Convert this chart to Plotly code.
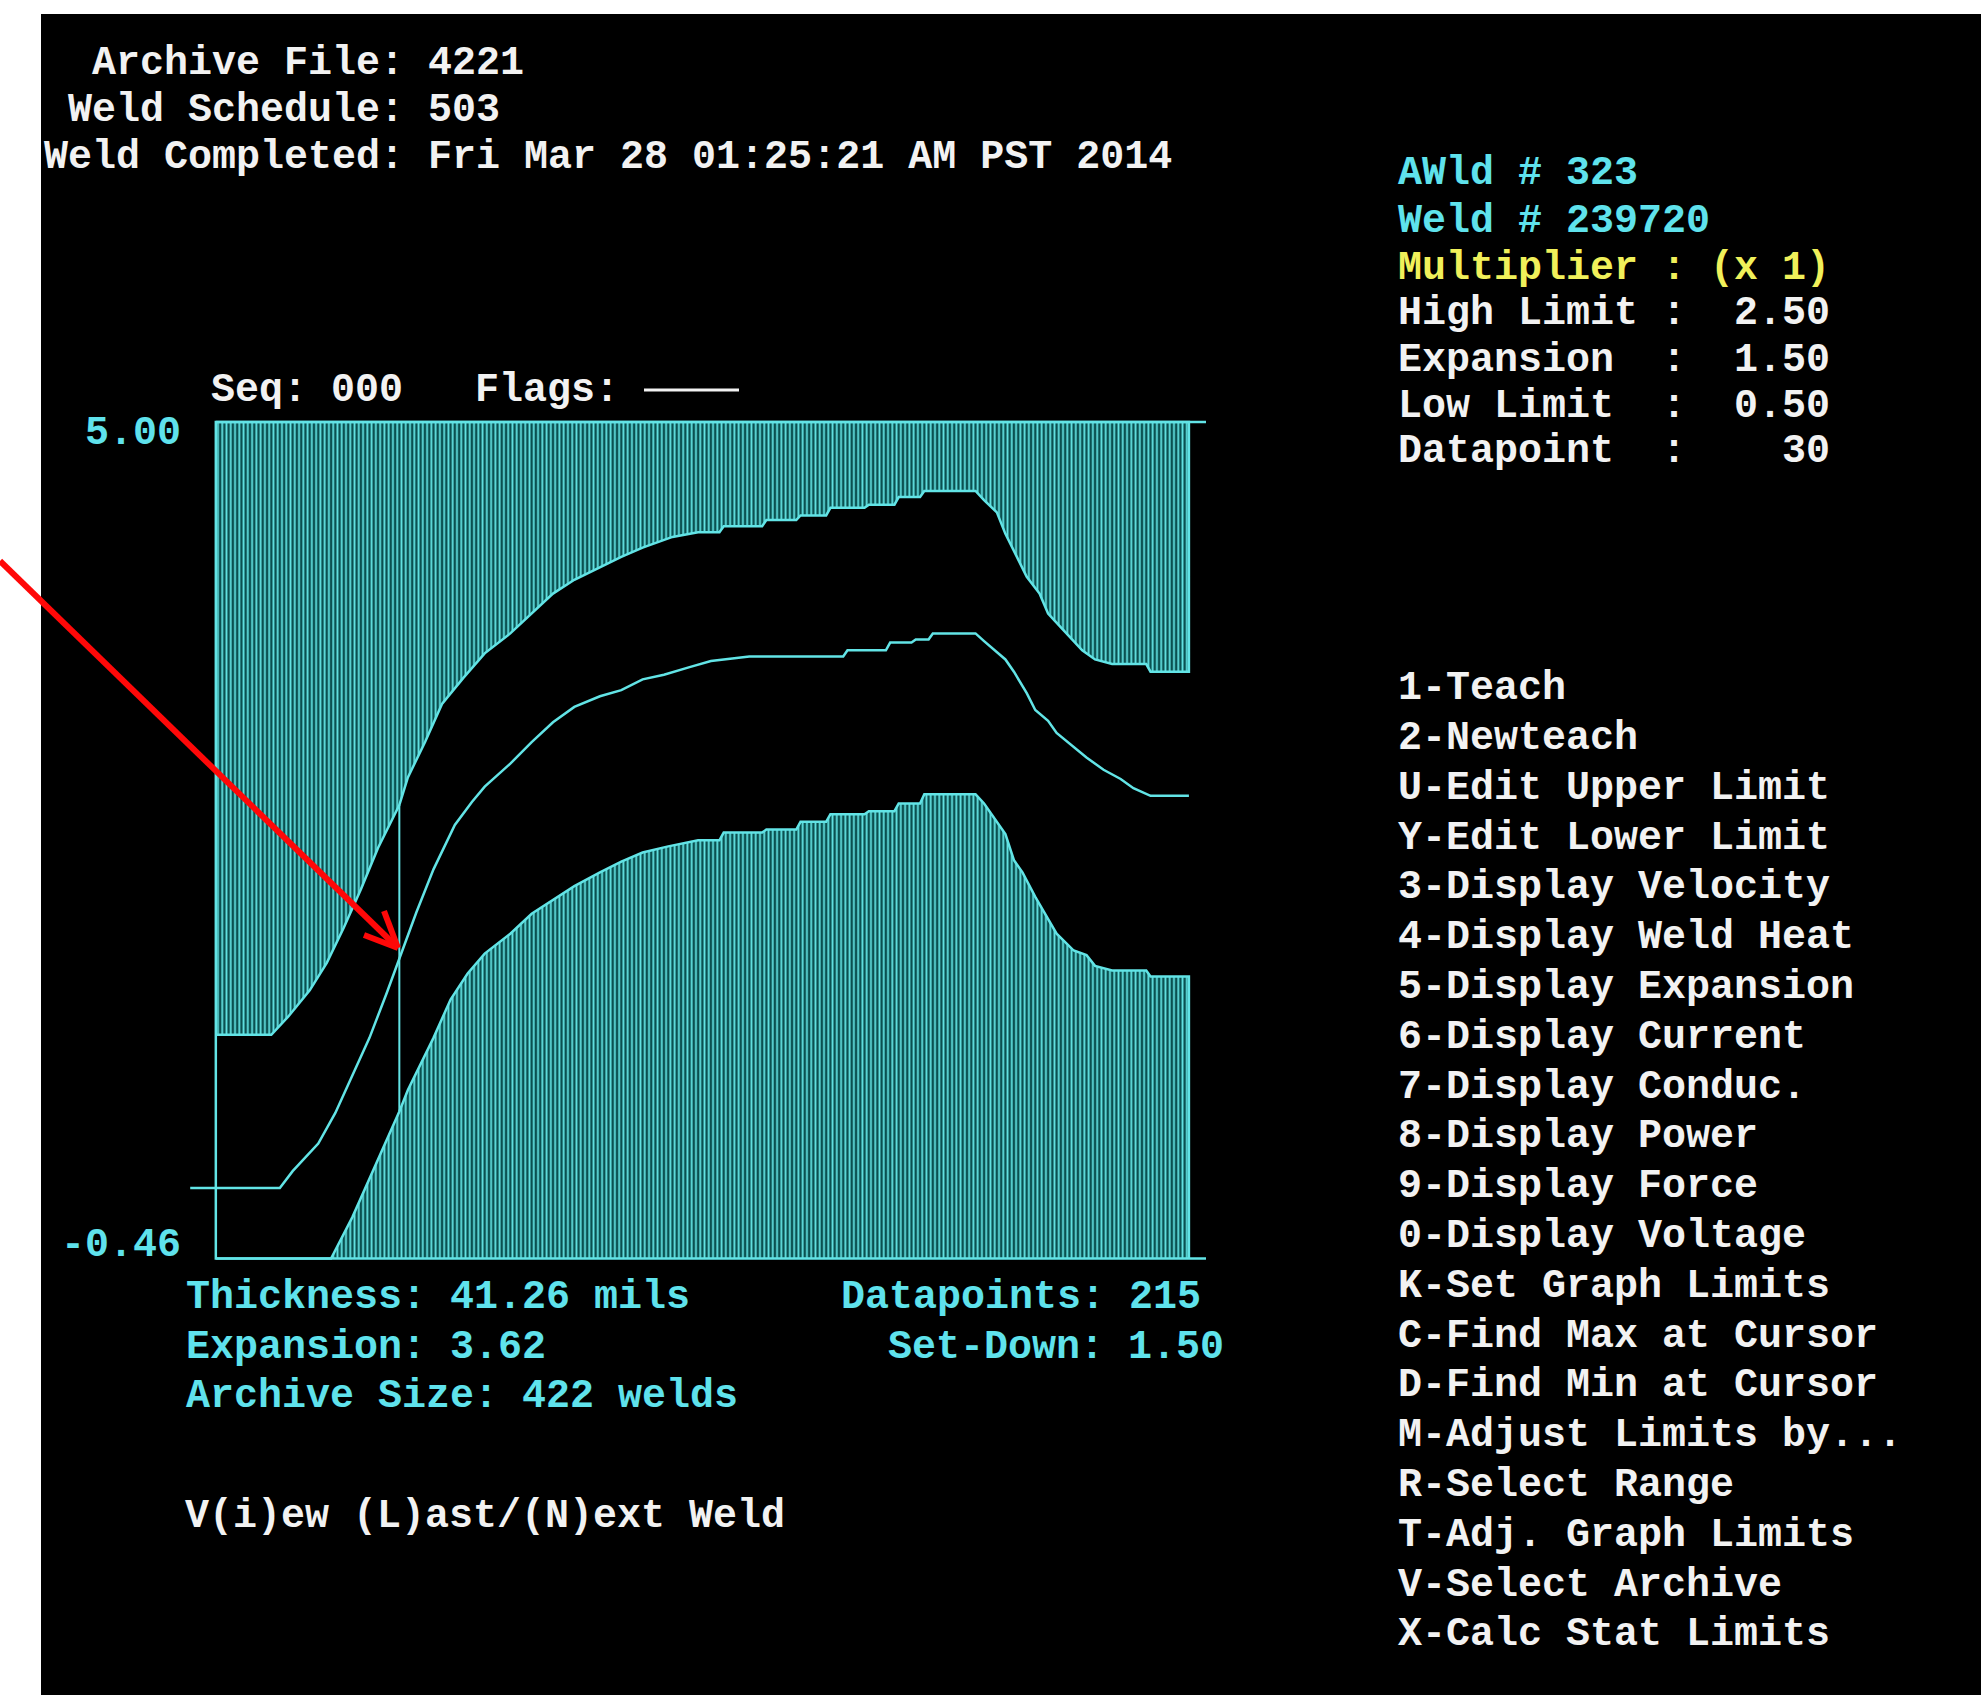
import plotly.graph_objects as go

# ---------------------------------------------------------------------------
# Weld record shown on the monitor screen
# ---------------------------------------------------------------------------
GRAPH_MAX = 5.00
GRAPH_MIN = -0.46
FRAME_LEFT_DP = -13      # first sample drawn (pre-weld)
FRAME_RIGHT_DP = 219     # right end of the graph frame

# upper limit envelope (datapoint, value)
upper_dp = [-13, 0, 4, 9, 13, 17, 21, 25, 30, 32, 36, 40, 45, 50, 56, 61, 66, 71,
            77, 82, 87, 94, 100, 105, 106, 115, 116, 123, 124, 130, 131, 139, 140,
            146, 147, 152, 153, 165, 167, 170, 172, 175, 177, 180, 182, 185, 188,
            190, 193, 197, 205, 206, 215]
upper_val = [1.00, 1.00, 1.12, 1.29, 1.47, 1.70, 1.95, 2.22, 2.50, 2.68, 2.91, 3.16,
             3.33, 3.49, 3.62, 3.75, 3.88, 3.97, 4.05, 4.12, 4.18, 4.25, 4.28, 4.28,
             4.32, 4.32, 4.36, 4.36, 4.39, 4.39, 4.44, 4.44, 4.46, 4.46, 4.51, 4.51,
             4.55, 4.55, 4.49, 4.41, 4.27, 4.10, 3.99, 3.88, 3.75, 3.66, 3.57, 3.51,
             3.45, 3.42, 3.42, 3.37, 3.37]

# measured expansion of this weld
expansion_dp = [-19, 2, 5, 11, 15, 19, 23, 27, 30, 34, 38, 43, 47, 50, 56, 61, 66, 71,
                77, 82, 87, 92, 98, 103, 112, 134, 135, 144, 145, 150, 151, 154, 155,
                165, 167, 172, 174, 177, 179, 182, 184, 188, 191, 195, 199, 202, 206, 215]
expansion_val = [0.00, 0.00, 0.11, 0.29, 0.49, 0.73, 0.98, 1.27, 1.50, 1.80, 2.08, 2.37,
                 2.52, 2.62, 2.77, 2.91, 3.04, 3.14, 3.21, 3.25, 3.32, 3.35, 3.40, 3.44,
                 3.47, 3.47, 3.51, 3.51, 3.56, 3.56, 3.58, 3.58, 3.62, 3.62, 3.57, 3.45,
                 3.37, 3.23, 3.12, 3.05, 2.97, 2.88, 2.81, 2.73, 2.67, 2.61, 2.56, 2.56]

# lower limit envelope
lower_dp = [-13, 14, 19, 24, 30, 32, 35, 38, 42, 46, 50, 56, 61, 66, 71, 77, 82, 87, 93,
            100, 105, 106, 115, 116, 123, 124, 130, 131, 139, 140, 146, 147, 152, 153,
            165, 167, 172, 174, 176, 179, 182, 184, 188, 191, 193, 197, 205, 206, 215]
lower_val = [-0.46, -0.46, -0.19, 0.12, 0.50, 0.64, 0.81, 0.98, 1.23, 1.40, 1.53, 1.66,
             1.79, 1.88, 1.97, 2.06, 2.13, 2.19, 2.23, 2.27, 2.27, 2.32, 2.32, 2.34,
             2.34, 2.39, 2.39, 2.44, 2.44, 2.46, 2.46, 2.51, 2.51, 2.57, 2.57, 2.51,
             2.31, 2.14, 2.06, 1.90, 1.75, 1.66, 1.55, 1.52, 1.45, 1.42, 1.42, 1.38, 1.38]

# cursor settings
CURSOR_DP = 30
HIGH_LIMIT = 2.50
EXPANSION_SET = 1.50
LOW_LIMIT = 0.50

ARCHIVE_FILE = 4221
WELD_SCHEDULE = 503
COMPLETED = "Fri Mar 28 01:25:21 AM PST 2014"
AWLD_NO = 323
WELD_NO = 239720
THICKNESS = 41.26
DATAPOINTS = 215
SET_DOWN = 1.50
ARCHIVE_SIZE = 422

menu_items = [
    "1-Teach", "2-Newteach", "U-Edit Upper Limit", "Y-Edit Lower Limit",
    "3-Display Velocity", "4-Display Weld Heat", "5-Display Expansion",
    "6-Display Current", "7-Display Conduc.", "8-Display Power",
    "9-Display Force", "0-Display Voltage", "K-Set Graph Limits",
    "C-Find Max at Cursor", "D-Find Min at Cursor", "M-Adjust Limits by...",
    "R-Select Range", "T-Adj. Graph Limits", "V-Select Archive",
    "X-Calc Stat Limits",
]

# ---------------------------------------------------------------------------
# Screen geometry (pixels)
# ---------------------------------------------------------------------------
W, H = 1981, 1695
X_ZERO_PX = 271.3        # pixel column of datapoint 0
DP_PX = 4.268            # pixels per datapoint
Y_TOP_PX = 422.0         # pixel row of GRAPH_MAX
UNIT_PX = 153.2          # pixels per expansion unit
X_RANGE = [-24, 224]
Y_RANGE = [-0.8, 5.25]


def xpx(dp):
    return X_ZERO_PX + dp * DP_PX


def ypx(v):
    return Y_TOP_PX + (GRAPH_MAX - v) * UNIT_PX


def px(x, y):
    return x / W, 1 - y / H


x_domain = [xpx(X_RANGE[0]) / W, xpx(X_RANGE[1]) / W]
y_domain = [1 - ypx(Y_RANGE[0]) / H, 1 - ypx(Y_RANGE[1]) / H]

TRACE = "#62e4e6"
HATCH_FG = "#62e2e2"
HATCH_BG = "#0a5050"
WHITE = "#f2f2f2"
CYAN = "#5fe2ec"
YELLOW = "#f0f05a"
FONT = "Liberation Mono"
FS = 40
CHAR = 0.6 * FS

fig = go.Figure()

hatch = dict(shape="|", size=DP_PX, solidity=0.42, fgcolor=HATCH_FG,
             bgcolor=HATCH_BG, fillmode="replace")

# upper limit band: hatched from the graph top down to the limit
fig.add_trace(go.Scatter(
    x=upper_dp + [upper_dp[-1], upper_dp[0]],
    y=upper_val + [GRAPH_MAX, GRAPH_MAX],
    mode="lines", fill="toself", fillcolor=HATCH_BG, fillpattern=hatch,
    line=dict(color=TRACE, width=2.5), hoverinfo="skip"))

# lower limit band: hatched from the graph bottom up to the limit
fig.add_trace(go.Scatter(
    x=lower_dp + [lower_dp[-1]],
    y=lower_val + [GRAPH_MIN],
    mode="lines", fill="toself", fillcolor=HATCH_BG, fillpattern=hatch,
    line=dict(color=TRACE, width=2.5), hoverinfo="skip"))

# graph frame
fig.add_trace(go.Scatter(
    x=[FRAME_RIGHT_DP, FRAME_LEFT_DP, FRAME_LEFT_DP, FRAME_RIGHT_DP],
    y=[GRAPH_MAX, GRAPH_MAX, GRAPH_MIN, GRAPH_MIN],
    mode="lines", line=dict(color=TRACE, width=2.5), hoverinfo="skip"))

# measured expansion
fig.add_trace(go.Scatter(
    x=expansion_dp, y=expansion_val, mode="lines",
    line=dict(color=TRACE, width=2.5), hoverinfo="skip"))

# cursor between the two limits
fig.add_trace(go.Scatter(
    x=[CURSOR_DP, CURSOR_DP], y=[LOW_LIMIT, HIGH_LIMIT], mode="lines",
    line=dict(color=TRACE, width=2), hoverinfo="skip"))

annotations = []


def text(x, y, s, color=WHITE, anchor="left"):
    ax, ay = px(x, y)
    annotations.append(dict(
        x=ax, y=ay, xref="paper", yref="paper", text=f"<b>{s}</b>",
        showarrow=False, xanchor=anchor, yanchor="middle",
        font=dict(family=FONT, size=FS, color=color)))


NB = "\u00a0"

# header, colons aligned on one column
VALUE_COL = 425.8
text(VALUE_COL - 14 * CHAR, 63, f"Archive File: {ARCHIVE_FILE}")
text(VALUE_COL - 15 * CHAR, 110, f"Weld Schedule: {WELD_SCHEDULE}")
text(VALUE_COL - 16 * CHAR, 157, f"Weld Completed: {COMPLETED}")

# weld info block on the right
RX = 1396
text(RX, 173, f"AWld # {AWLD_NO}", CYAN)
text(RX, 221, f"Weld # {WELD_NO}", CYAN)
text(RX, 268, f"Multiplier : (x 1)", YELLOW)
text(RX, 313, f"High Limit :{NB * 2}{HIGH_LIMIT:.2f}")
text(RX, 360, f"Expansion{NB * 2}:{NB * 2}{EXPANSION_SET:.2f}")
text(RX, 406, f"Low Limit{NB * 2}:{NB * 2}{LOW_LIMIT:.2f}")
text(RX, 452, f"Datapoint{NB * 2}:{NB * 4}{CURSOR_DP}")

# key menu
for i, item in enumerate(menu_items):
    text(RX, 688.6 + i * 49.8, item)

# graph caption and limits
text(208.5, 390, f"Seq: 000{NB * 3}Flags:")
for val, shift in ((GRAPH_MAX, -11), (GRAPH_MIN, 13)):
    annotations.append(dict(
        x=183 / W, y=val, xref="paper", yref="y", yshift=shift,
        text=f"<b>{val:.2f}</b>", showarrow=False, xanchor="right",
        yanchor="middle", font=dict(family=FONT, size=FS, color=CYAN)))

# weld summary under the graph
text(184, 1297.5, f"Thickness: {THICKNESS:.2f} mils", CYAN)
text(184, 1347, f"Expansion: {max(expansion_val):.2f}", CYAN)
text(184, 1396, f"Archive Size: {ARCHIVE_SIZE} welds", CYAN)
text(1203, 1297.5, f"Datapoints: {DATAPOINTS}", CYAN, anchor="right")
text(1225.5, 1347, f"Set-Down: {SET_DOWN:.2f}", CYAN, anchor="right")
text(183, 1516, "V(i)ew (L)ast/(N)ext Weld")

shapes = []
# screen area
x0, y0 = px(41, 14)
x1, y1 = px(W, H)
shapes.append(dict(type="rect", xref="paper", yref="paper", x0=x0, y0=y1,
                   x1=x1, y1=y0, fillcolor="black", line=dict(width=0),
                   layer="below"))


def seg(xa, ya, xb, yb, color, width):
    pa, qa = px(xa, ya)
    pb, qb = px(xb, yb)
    shapes.append(dict(type="line", xref="paper", yref="paper", x0=pa, y0=qa,
                       x1=pb, y1=qb, line=dict(color=color, width=width),
                       layer="above"))


# empty flags field
seg(644, 390, 739, 390, WHITE, 3)

# red pointer to the cursor point
TIP = (397, 947)
RED = "#ff0808"
seg(0, 561, TIP[0], TIP[1], RED, 6)
seg(364, 935, TIP[0] + 1, TIP[1] + 1, RED, 6)
seg(384, 911, TIP[0] + 1, TIP[1] + 1, RED, 6)

fig.update_layout(
    width=W, height=H, margin=dict(l=0, r=0, t=0, b=0, pad=0),
    paper_bgcolor="white", plot_bgcolor="black", showlegend=False,
    xaxis=dict(domain=x_domain, range=X_RANGE, visible=False, fixedrange=True),
    yaxis=dict(domain=y_domain, range=Y_RANGE, visible=False, fixedrange=True),
    annotations=annotations, shapes=shapes,
)

fig.write_html("out.html", config={"displayModeBar": False})
